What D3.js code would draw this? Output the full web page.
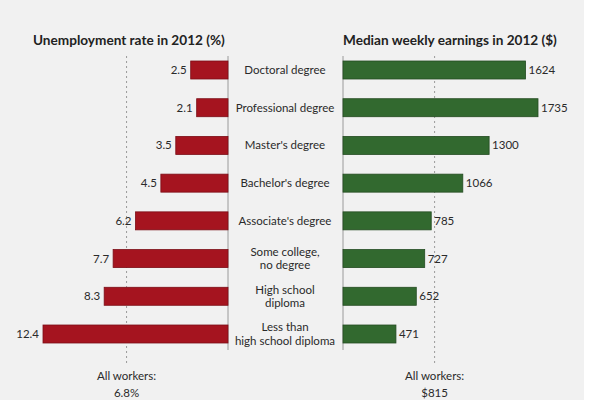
<!DOCTYPE html>
<html>
<head>
<meta charset="utf-8">
<script src="https://cdn.jsdelivr.net/npm/d3@7"></script>
<style>
  html, body { margin: 0; padding: 0; background: #ffffff; }
  svg { display: block; }
  text { font-family: Lato, "Open Sans", sans-serif; }
</style>
</head>
<body>
<svg id="chart" width="600" height="400"></svg>
<script>
const categories = [
  "Doctoral degree",
  "Professional degree",
  "Master's degree",
  "Bachelor's degree",
  "Associate's degree",
  "Some college,\nno degree",
  "High school\ndiploma",
  "Less than\nhigh school diploma"
];
const unemployment = [2.5, 2.1, 3.5, 4.5, 6.2, 7.7, 8.3, 12.4];
const earnings = [1624, 1735, 1300, 1066, 785, 727, 652, 471];
const allWorkersUnemployment = 6.8;
const allWorkersEarnings = 815;
const titles = ["Unemployment rate in 2012 (%)", "Median weekly earnings in 2012 ($)"];

const svg = d3.select("#chart");

// background
svg.append("rect").attr("x", 0).attr("y", 0).attr("width", 584).attr("height", 400).attr("fill", "#f1f1f1");

const y = d3.scalePoint().domain(categories).range([70, 334]);
const barH = 18;

const xL = d3.scaleLinear().domain([0, 12.4]).range([228, 43]);
const xR = d3.scaleLinear().domain([0, 1735]).range([343, 538]);

// titles
svg.append("text").attr("x", 33).attr("y", 45).attr("font-size", 13.6).attr("font-weight", 700)
  .attr("fill", "#222").text(titles[0]);
svg.append("text").attr("x", 343).attr("y", 45).attr("font-size", 13.6).attr("font-weight", 700)
  .attr("fill", "#222").text(titles[1]);

// dashed reference lines
svg.append("line").attr("x1", xL(allWorkersUnemployment)).attr("x2", xL(allWorkersUnemployment))
  .attr("y1", 56).attr("y2", 366).attr("stroke", "#9a9a9a").attr("stroke-width", 1)
  .attr("stroke-dasharray", "2,3");
svg.append("line").attr("x1", xR(allWorkersEarnings)).attr("x2", xR(allWorkersEarnings))
  .attr("y1", 56).attr("y2", 366).attr("stroke", "#9a9a9a").attr("stroke-width", 1)
  .attr("stroke-dasharray", "2,3");

// zero lines
svg.append("line").attr("x1", xL(0)).attr("x2", xL(0)).attr("y1", 56).attr("y2", 350)
  .attr("stroke", "#9a9a9a").attr("stroke-width", 1);
svg.append("line").attr("x1", xR(0)).attr("x2", xR(0)).attr("y1", 56).attr("y2", 350)
  .attr("stroke", "#9a9a9a").attr("stroke-width", 1);

// left bars
svg.selectAll(".barL").data(unemployment).join("rect")
  .attr("class", "barL")
  .attr("x", d => xL(d))
  .attr("y", (d, i) => y(categories[i]) - barH / 2)
  .attr("width", d => xL(0) - xL(d))
  .attr("height", barH)
  .attr("fill", "#a5141f")
  .attr("stroke", "#7c0e17").attr("stroke-width", 0.8);

svg.selectAll(".valL").data(unemployment).join("text")
  .attr("class", "valL")
  .attr("x", d => xL(d) - 4)
  .attr("y", (d, i) => y(categories[i]) + 4)
  .attr("text-anchor", "end").attr("font-size", 11.5).attr("fill", "#2a2a2a")
  .text(d => d3.format(".1f")(d));

// right bars
svg.selectAll(".barR").data(earnings).join("rect")
  .attr("class", "barR")
  .attr("x", xR(0))
  .attr("y", (d, i) => y(categories[i]) - barH / 2)
  .attr("width", d => xR(d) - xR(0))
  .attr("height", barH)
  .attr("fill", "#32692f")
  .attr("stroke", "#234b21").attr("stroke-width", 0.8);

svg.selectAll(".valR").data(earnings).join("text")
  .attr("class", "valR")
  .attr("x", d => xR(d) + 3)
  .attr("y", (d, i) => y(categories[i]) + 4)
  .attr("text-anchor", "start").attr("font-size", 11.5).attr("fill", "#2a2a2a")
  .text(d => d);

// category labels
const catG = svg.selectAll(".cat").data(categories).join("text")
  .attr("class", "cat")
  .attr("x", 285)
  .attr("text-anchor", "middle").attr("font-size", 11.5).attr("fill", "#2a2a2a");
catG.each(function(d) {
  const lines = d.split("\n");
  const t = d3.select(this);
  const cy = y(d);
  const lh = 13.5;
  lines.forEach((ln, k) => {
    t.append("tspan").attr("x", 285)
      .attr("y", cy + 4 + (k - (lines.length - 1) / 2) * lh)
      .text(ln);
  });
});

// all workers labels
[[xL(allWorkersUnemployment), d3.format(".1f")(allWorkersUnemployment) + "%"],
 [xR(allWorkersEarnings), "$" + allWorkersEarnings]].forEach(([x, v]) => {
  svg.append("text").attr("x", x).attr("y", 380).attr("text-anchor", "middle")
    .attr("font-size", 11.5).attr("fill", "#2a2a2a").text("All workers:");
  svg.append("text").attr("x", x).attr("y", 397).attr("text-anchor", "middle")
    .attr("font-size", 11.5).attr("fill", "#2a2a2a").text(v);
});
</script>
</body>
</html>
